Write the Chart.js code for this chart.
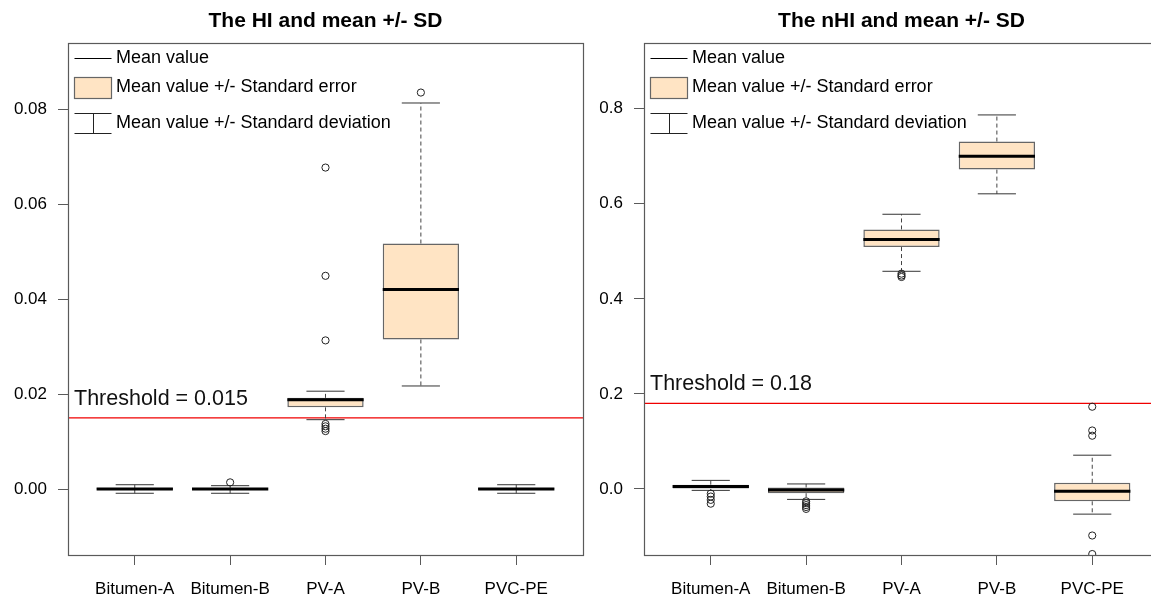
<!DOCTYPE html>
<html>
<head>
<meta charset="utf-8">
<title>HI and nHI by material</title>
<script src="https://cdn.jsdelivr.net/npm/chart.js@4.4.1/dist/chart.umd.min.js"></script>
<style>
  html, body { margin: 0; padding: 0; background: #ffffff; width: 1151px; height: 599px; overflow: hidden; position: relative; }
  canvas { position: absolute; top: 0; }
  #hiChart { left: 0; }
  #nhiChart { left: 576px; }
</style>
</head>
<body>
<canvas id="hiChart" width="600" height="599" style="width:600px;height:599px"></canvas>
<canvas id="nhiChart" width="600" height="599" style="width:600px;height:599px"></canvas>
<script>
// ---- data -------------------------------------------------------------
const categories = ['Bitumen-A', 'Bitumen-B', 'PV-A', 'PV-B', 'PVC-PE'];
const legendLabels = ['Mean value', 'Mean value +/- Standard error', 'Mean value +/- Standard deviation'];

// HI
const hiMean      = [0.0000, 0.0000, 0.0188, 0.0420, 0.0000];
const hiSeLow     = [-0.0001, -0.0001, 0.0172, 0.0315, -0.0001];
const hiSeHigh    = [0.0002, 0.0001, 0.0192, 0.0517, 0.0002];
const hiSdLow     = [-0.0009, -0.0009, 0.0146, 0.0217, -0.0009];
const hiSdHigh    = [0.0009, 0.0007, 0.0206, 0.0813, 0.0009];
const hiOutliers  = [[], [0.0014], [0.0677, 0.0449, 0.0313, 0.0137, 0.0132, 0.0127, 0.0122], [0.0835], []];
const hiTicks     = [0.00, 0.02, 0.04, 0.06, 0.08];
const hiRange     = [-0.0139, 0.0940];
const hiThreshold = 0.015;

// nHI
const nhiMean      = [0.005, -0.002, 0.525, 0.700, -0.005];
const nhiSeLow     = [0.000, -0.009, 0.509, 0.672, -0.026];
const nhiSeHigh    = [0.009, 0.003, 0.546, 0.731, 0.013];
const nhiSdLow     = [-0.003, -0.022, 0.458, 0.621, -0.053];
const nhiSdHigh    = [0.018, 0.0105, 0.578, 0.787, 0.071];
const nhiOutliers  = [[-0.010, -0.016, -0.023, -0.031], [-0.026, -0.030, -0.034, -0.038, -0.042], [0.453, 0.449, 0.446], [], [0.173, 0.123, 0.112, -0.098, -0.137]];
const nhiTicks     = [0.0, 0.2, 0.4, 0.6, 0.8];
const nhiRange     = [-0.139, 0.939];
const nhiThreshold = 0.18;

const xRange = [0.3, 5.7];

// ---- styling ----------------------------------------------------------
const FONT = "'Liberation Sans', Arial, sans-serif";
const BOX_FILL = '#FFE4C4';
const BOX_EDGE = '#666666';
const FRAME = '#5a5a5a';
const THRESHOLD_COLOR = '#f00000';
const MEDIAN_HALF = 0.4;   // half box width, in category units
const CAP_HALF = 0.2;      // half whisker-cap width

// ---- dataset builders ------------------------------------------------
function segments(pairs) {
  // pairs: [[x0,y0,x1,y1], ...] -> line points separated by gaps
  const pts = [];
  pairs.forEach(([x0, y0, x1, y1]) => {
    pts.push({ x: x0, y: y0 }, { x: x1, y: y1 }, { x: x1, y: null });
  });
  return pts;
}

function buildDatasets(mean, seLow, seHigh, sdLow, sdHigh, outliers, threshold) {
  const idx = categories.map((c, i) => i + 1);
  const outlierPts = [];
  outliers.forEach((list, i) => list.forEach(v => outlierPts.push({ x: idx[i], y: v })));
  return [
    {
      type: 'line', label: 'whisker',
      data: segments(idx.flatMap((x, i) => [[x, seHigh[i], x, sdHigh[i]], [x, seLow[i], x, sdLow[i]]])),
      borderColor: '#444', borderWidth: 1, borderDash: [4, 3], pointRadius: 0, spanGaps: false, order: 5
    },
    {
      type: 'line', label: 'caps',
      data: segments(idx.flatMap((x, i) => [[x - CAP_HALF, sdHigh[i], x + CAP_HALF, sdHigh[i]], [x - CAP_HALF, sdLow[i], x + CAP_HALF, sdLow[i]]])),
      borderColor: '#333', borderWidth: 1, pointRadius: 0, spanGaps: false, order: 4
    },
    {
      type: 'bar', label: 'box',
      data: idx.map((x, i) => ({ x: x, y: [seLow[i], seHigh[i]] })),
      backgroundColor: BOX_FILL, borderColor: BOX_EDGE, borderWidth: 1.5, borderSkipped: false,
      barPercentage: 0.8, categoryPercentage: 1.0, grouped: false, order: 3
    },
    {
      type: 'line', label: 'mean',
      data: segments(idx.map((x, i) => [x - MEDIAN_HALF, mean[i], x + MEDIAN_HALF, mean[i]])),
      borderColor: '#000', borderWidth: 3, pointRadius: 0, spanGaps: false, order: 2
    },
    {
      type: 'scatter', label: 'outliers',
      data: outlierPts,
      pointStyle: 'circle', pointRadius: 3.6, borderWidth: 1, borderColor: '#222',
      backgroundColor: 'rgba(255,255,255,0)', clip: 0, order: 1
    },
    {
      type: 'line', label: 'threshold',
      data: [{ x: xRange[0], y: threshold }, { x: xRange[1], y: threshold }],
      borderColor: THRESHOLD_COLOR, borderWidth: 1.2, pointRadius: 0, order: 6
    }
  ];
}

// ---- plugins -----------------------------------------------------------
const framePlugin = {
  id: 'frame',
  afterDatasetsDraw(chart) {
    const { ctx, chartArea: a } = chart;
    ctx.save();
    ctx.strokeStyle = FRAME;
    ctx.lineWidth = 1.2;
    ctx.strokeRect(Math.round(a.left) + 0.5, Math.round(a.top) + 0.5, Math.round(a.width), Math.round(a.height));
    ctx.restore();
  }
};

const annotationPlugin = {
  id: 'boxLegend',
  afterDraw(chart, args, opts) {
    const { ctx, chartArea: a } = chart;
    const L = Math.round(a.left), T = Math.round(a.top);
    const x0 = L + 6.5, x1 = L + 43.5, tx = L + 48;
    ctx.save();
    ctx.font = '18px ' + FONT;
    ctx.textBaseline = 'middle';
    ctx.textAlign = 'left';

    // mean line
    ctx.strokeStyle = '#000';
    ctx.lineWidth = 1;
    ctx.beginPath(); ctx.moveTo(x0, T + 15.5); ctx.lineTo(x1, T + 15.5); ctx.stroke();
    ctx.fillStyle = '#000';
    ctx.fillText(legendLabels[0], tx, T + 15.5);

    // standard error box
    ctx.fillStyle = BOX_FILL;
    ctx.fillRect(x0, T + 34.5, x1 - x0, 21);
    ctx.strokeStyle = BOX_EDGE;
    ctx.lineWidth = 1.2;
    ctx.strokeRect(x0, T + 34.5, x1 - x0, 21);
    ctx.fillStyle = '#000';
    ctx.fillText(legendLabels[1], tx, T + 44.5);

    // standard deviation whisker
    ctx.strokeStyle = '#222';
    ctx.lineWidth = 1;
    const xm = Math.round((x0 + x1) / 2) + 0.5;
    ctx.beginPath();
    ctx.moveTo(x0, T + 70.5); ctx.lineTo(x1, T + 70.5);
    ctx.moveTo(x0, T + 90.5); ctx.lineTo(x1, T + 90.5);
    ctx.moveTo(xm, T + 70.5); ctx.lineTo(xm, T + 90.5);
    ctx.stroke();
    ctx.fillText(legendLabels[2], tx, T + 80.5);

    // threshold label, placed just above its line
    const ty = chart.scales.y.getPixelForValue(opts.threshold);
    ctx.font = '21.5px ' + FONT;
    ctx.fillStyle = '#111';
    ctx.fillText('Threshold = ' + opts.threshold, L + 6, ty - 19);
    ctx.restore();
  }
};

// ---- chart factory --------------------------------------------------
function makeChart(id, title, datasets, yRange, yTicks, decimals, threshold) {
  return new Chart(document.getElementById(id), {
    type: 'bar',
    data: { datasets: datasets },
    plugins: [framePlugin, annotationPlugin],
    options: {
      responsive: false,
      animation: false,
      devicePixelRatio: 1,
      events: [],
      layout: { padding: { left: 0, right: 17, top: 0, bottom: 0 } },
      plugins: {
        legend: { display: false },
        tooltip: { enabled: false },
        title: {
          display: true, text: title, fullSize: false, color: '#000',
          font: { family: FONT, size: 21, weight: 'bold' },
          padding: { top: 9, bottom: 8.5 }
        },
        boxLegend: { threshold: threshold }
      },
      scales: {
        x: {
          type: 'linear', min: xRange[0], max: xRange[1], offset: false,
          grid: { display: true, drawOnChartArea: false, drawTicks: true, tickLength: 10, tickColor: FRAME, offset: false },
          border: { display: false },
          afterBuildTicks: s => { s.ticks = categories.map((c, i) => ({ value: i + 1 })); },
          afterFit: s => { s.height = 44; },
          ticks: {
            autoSkip: false, maxRotation: 0, padding: 14, color: '#000',
            font: { family: FONT, size: 17 },
            callback: v => categories[Math.round(v) - 1]
          }
        },
        y: {
          type: 'linear', min: yRange[0], max: yRange[1],
          grid: { display: true, drawOnChartArea: false, drawTicks: true, tickLength: 10, tickColor: FRAME },
          border: { display: false },
          afterBuildTicks: s => { s.ticks = yTicks.map(v => ({ value: v })); },
          afterFit: s => { s.width = 68; },
          ticks: {
            padding: 11, color: '#000',
            font: { family: FONT, size: 17 },
            callback: v => Number(v).toFixed(decimals)
          }
        }
      }
    }
  });
}

makeChart('hiChart', 'The HI and mean +/- SD',
  buildDatasets(hiMean, hiSeLow, hiSeHigh, hiSdLow, hiSdHigh, hiOutliers, hiThreshold),
  hiRange, hiTicks, 2, hiThreshold);

makeChart('nhiChart', 'The nHI and mean +/- SD',
  buildDatasets(nhiMean, nhiSeLow, nhiSeHigh, nhiSdLow, nhiSdHigh, nhiOutliers, nhiThreshold),
  nhiRange, nhiTicks, 1, nhiThreshold);
</script>
</body>
</html>
